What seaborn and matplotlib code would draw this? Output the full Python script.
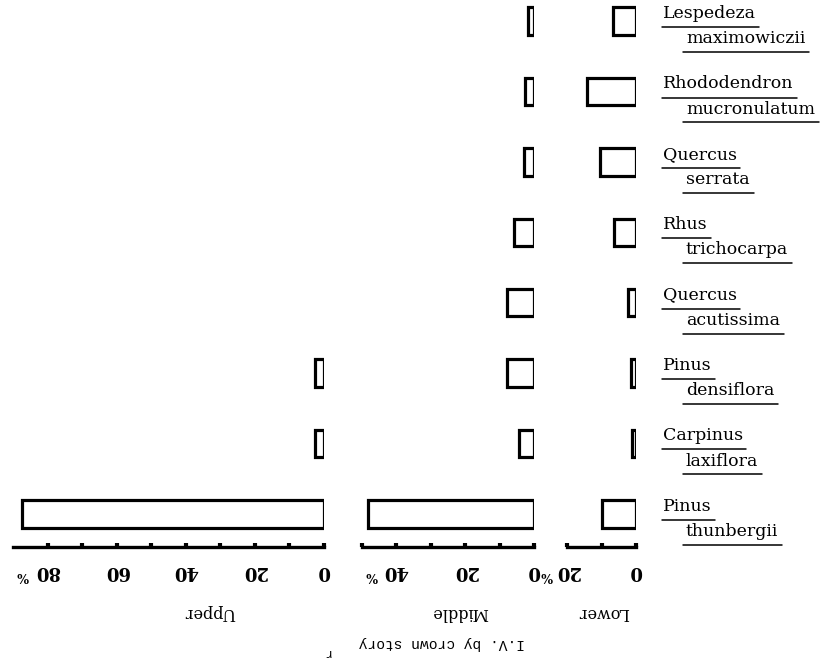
import numpy as np
import pandas as pd
import matplotlib
matplotlib.use("Agg")
import matplotlib.pyplot as plt
import matplotlib.transforms as mtransforms
from matplotlib.lines import Line2D
import seaborn as sns

# species, top to bottom
GENUS = ["Lespedeza", "Rhododendron", "Quercus", "Rhus",
         "Quercus", "Pinus", "Carpinus", "Pinus"]
EPITHET = ["maximowiczii", "mucronulatum", "serrata", "trichocarpa",
           "acutissima", "densiflora", "laxiflora", "thunbergii"]

# I.V. (%) by crown story
UPPER = [np.nan, np.nan, np.nan, np.nan, np.nan, 2.4, 2.6, 87.5]
MIDDLE = [1.7, 2.6, 2.9, 5.8, 7.8, 7.8, 4.3, 48.0]
LOWER = [6.8, 14.1, 10.3, 6.5, 2.4, 1.5, 1.2, 10.0]

STORIES = ["Upper", "Middle", "Lower"]
UPPER_TICKS = [0, 10, 20, 30, 40, 50, 60, 70, 80]
MIDDLE_TICKS = [0, 10, 20, 30, 40, 50]
LOWER_TICKS = [0, 10, 20]
X_MAX = [90, 50, 20]

W, H = 825, 665

sns.set_theme(style="white")
plt.rcParams["font.family"] = ["DejaVu Serif"]
plt.rcParams["text.color"] = "black"
plt.rcParams["xtick.color"] = "black"
plt.rcParams["axes.edgecolor"] = "black"

names = [f"{g} {e}" for g, e in zip(GENUS, EPITHET)]
df = pd.DataFrame({"species": names, "Upper": UPPER, "Middle": MIDDLE, "Lower": LOWER})

fig = plt.figure(figsize=(W / 100, H / 100), dpi=100)
bottom = (H - 547) / H
height = 547 / H
# left edge and width in pixels (same scale ~3.45 px per %)
boxes = [(13, 310.5), (361.5, 172.5), (567, 69)]
axes = [fig.add_axes([l / W, bottom, w / W, height]) for l, w in boxes]

for ax, story, xmax, ticks in zip(axes, STORIES, X_MAX,
                                   [UPPER_TICKS, MIDDLE_TICKS, LOWER_TICKS]):
    sub = df.dropna(subset=[story])
    sns.barplot(data=sub, x=story, y="species", order=names, orient="h",
                color="white", edgecolor="black", linewidth=2.3, width=0.39,
                errorbar=None, ax=ax)
    ax.set_xlim(xmax, 0)
    ax.set_ylim(7.47, -0.30)
    ax.set_xlabel("")
    ax.set_ylabel("")
    ax.set_yticks([])
    for s in ["top", "left", "right"]:
        ax.spines[s].set_visible(False)
    ax.spines["bottom"].set_linewidth(2.4)
    ax.set_xticks(ticks)
    ax.set_xticklabels([str(t) if t % 20 == 0 else "" for t in ticks],
                       rotation=180, fontweight="bold", fontsize=13)
    ax.tick_params(axis="x", bottom=True, direction="in", length=2.6,
                   width=3.0, color="black", pad=11)
    ax.patch.set_alpha(0)

# small % signs next to the largest labels
for ax, xp in zip(axes, [87.2, 47.0, 25.8]):
    tr = mtransforms.blended_transform_factory(ax.transData, ax.transAxes)
    ax.text(xp, -0.053, "%", transform=tr, rotation=180, fontsize=9,
            fontweight="bold", ha="center", va="center", clip_on=False)

# story names and axis title, printed upside down
for name, x in zip(STORIES, [210, 460, 603]):
    fig.text(x / W, 1 - 612 / H, name, rotation=180, ha="center", va="center",
             fontsize=11.5)
fig.text(442 / W, 1 - 643 / H, "I.V. by crown story", rotation=180,
         ha="center", va="center", fontsize=10.5, family=["Liberation Mono"])
fig.text(327 / W, 1 - 652 / H, "r", rotation=180, ha="center", va="center",
         fontsize=9, family=["Liberation Mono"])

# species labels with underlines
lab_tr = mtransforms.blended_transform_factory(fig.transFigure, axes[2].transData)
labels = []
for i, (g, e) in enumerate(zip(GENUS, EPITHET)):
    tg = fig.text(663 / W, i - 0.11, g, transform=lab_tr, ha="left",
                  va="center", fontsize=12.5)
    te = fig.text(686 / W, i + 0.25, e, transform=lab_tr, ha="left",
                  va="center", fontsize=12.5)
    labels.append((i, tg, te))

fig.canvas.draw()
renderer = fig.canvas.get_renderer()
for i, tg, te in labels:
    for t, dy, pad_l, pad_r in [(tg, 0.085, 1, 3), (te, 0.44, 3, 4)]:
        bb = t.get_window_extent(renderer)
        x0 = (bb.x0 - pad_l) / W
        x1 = (bb.x1 + pad_r) / W
        fig.add_artist(Line2D([x0, x1], [i + dy, i + dy], transform=lab_tr,
                              color="black", linewidth=1.1))

fig.savefig("out.png", dpi=100)
